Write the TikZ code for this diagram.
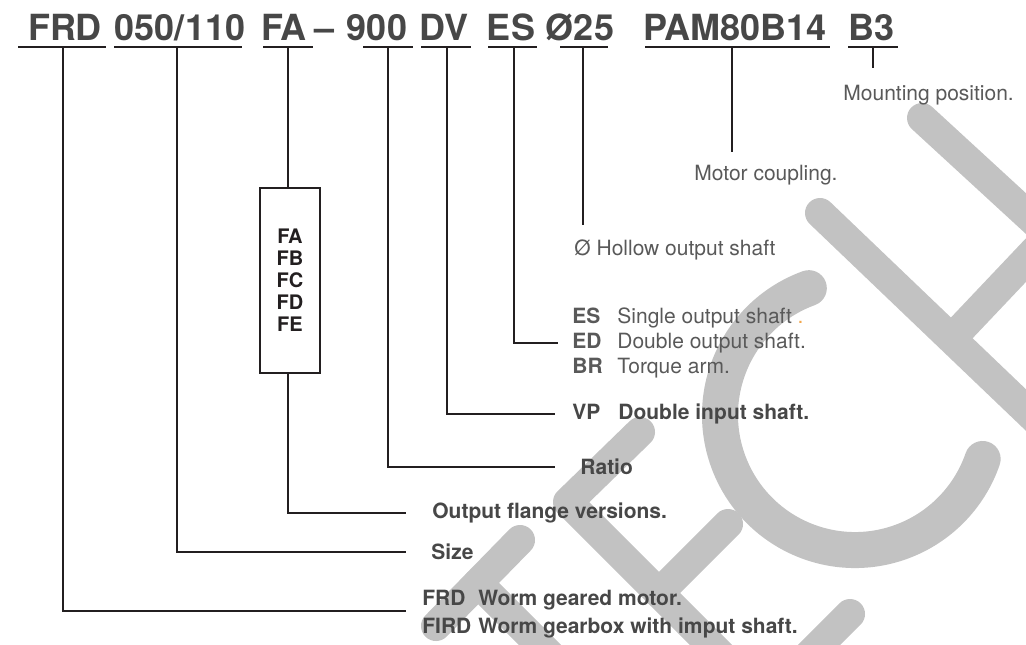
\documentclass[tikz,border=0pt]{standalone}
\usepackage{fontspec}
\setmainfont{TeX Gyre Heros}
\usepackage{tikz}
\usetikzlibrary{positioning}
\definecolor{frdInk}{HTML}{474747}
\definecolor{frdRule}{HTML}{231F20}
\definecolor{frdText}{HTML}{595959}
\definecolor{frdWater}{HTML}{C2C2C2}
\definecolor{frdDot}{HTML}{F2A64B}
\tikzset{
  partcode/.style  = {font=\fontsize{18}{20}\selectfont\bfseries, text=frdInk,
                      inner sep=0pt, anchor=base},
  codeline/.style  = {line width=1pt, draw=frdRule},
  lead/.style      = {line width=1pt, draw=frdRule},
  lbl/.style       = {font=\fontsize{10.5}{12.5}\selectfont, text=frdText,
                      inner sep=0pt, align=left},
  lblbold/.style   = {lbl, font=\fontsize{10.5}{12.5}\selectfont\bfseries, text=frdInk},
  flangebox/.style = {draw=frdRule, line width=1pt, minimum width=30pt,
                      minimum height=92.5pt, inner sep=0pt, align=center,
                      font=\fontsize{10}{11}\selectfont\bfseries, text=frdRule},
  wmark/.style     = {draw=frdWater, line width=15pt, line cap=round, line join=round},
}
\newcommand{\abbr}[1]{\makebox[22.5pt][l]{\bfseries #1}}

\begin{document}
\begin{tikzpicture}[x=0.5pt, y=-0.5pt]
  \useasboundingbox (0,0) rectangle (1026,644);

  % watermark letters
  \begin{scope}
    \clip (0,0) rectangle (1026,644);
    \draw[wmark] (436,626) -- (520,540);
    \draw[wmark] (478,583) -- (570,675);
    \draw[wmark] (640,432) -- (568,502) -- (800,734);
    \draw[wmark] (659,593) -- (728,524);
    \draw[wmark] (765,699) -- (850,614);
    \draw[wmark, line width=18pt] ([shift={(250:135)}]855,415)
      arc[start angle=250, end angle=19, radius=135];
    \draw[wmark] (922,118) -- (1120,300);
    \draw[wmark] (820,213) -- (1120,500);
    \draw[wmark] (955,335) -- (1045,240);
  \end{scope}

  % type code
  \node[partcode] (frd)   at (65,40)  {FRD};
  \node[partcode] (size)  at (180,40) {050/110};
  \node[partcode] (fa)    at (284,40) {FA};
  \node[partcode] (dash)  at (325,40) {–};
  \node[partcode] (ratio) at (377,40) {900};
  \node[partcode] (dv)    at (444,40) {DV};
  \node[partcode] (es)    at (511,40) {ES};
  \node[partcode] (dia)   at (580,40) {Ø25};
  \node[partcode] (pam)   at (735,40) {PAM80B14};
  \node[partcode] (b3)    at (871,40) {B3};

  \foreach \a/\b/\t/\n in {18/106/63/frd, 114/242/177/size, 263/313/288/fa,
      363/413/388/ratio, 421/471/447/dv, 488/537/514/es, 560/608/583/dia,
      645/830/732/pam, 848/898/873/b3}{
    \draw[codeline] (\a,47) -- (\b,47);
    \coordinate (\n-tap) at (\t,47);
  }

  \coordinate (frd-end)   at (406,611);
  \coordinate (size-end)  at (406,552);
  \coordinate (fa-end)    at (406,513);
  \coordinate (ratio-end) at (555,467);
  \coordinate (dv-end)    at (555,414);
  \coordinate (es-end)    at (558,343);
  \coordinate (dia-end)   at (583,225);
  \coordinate (pam-end)   at (732,152);
  \coordinate (b3-end)    at (873,68);

  \node[flangebox] (fbox) at (290,280) {FA\\FB\\FC\\FD\\FE};

  % leaders
  \draw[lead] (frd-tap) |- (frd-end);
  \draw[lead] (size-tap) |- (size-end);
  \draw[lead] (fa-tap) -- (fa-tap |- fbox.north);
  \draw[lead] (fa-tap |- fbox.south) |- (fa-end);
  \draw[lead] (ratio-tap) |- (ratio-end);
  \draw[lead] (dv-tap) |- (dv-end);
  \draw[lead] (es-tap) |- (es-end);
  \draw[lead] (dia-tap) -- (dia-end);
  \draw[lead] (pam-tap) -- (pam-end);
  \draw[lead] (b3-tap) -- (b3-end);

  % meanings
  \node[lblbold, right=8pt of frd-end, yshift=-1.5pt] (frd-lbl)
    {\begin{tabular}{@{}l@{\hspace{3.5pt}}l@{}}
      FRD & Worm geared motor.\\[1.5pt]
      FIRD & Worm gearbox with imput shaft.
     \end{tabular}};
  \node[lblbold, right=12.5pt of size-end] (size-lbl) {Size};
  \node[lblbold, right=13pt of fa-end] (fa-lbl) {Output flange versions.};
  \node[lblbold, right=12.5pt of ratio-end] (ratio-lbl) {Ratio};
  \node[lblbold, right=8.5pt of dv-end] (dv-lbl)
    {\makebox[23pt][l]{VP}Double input shaft.};
  \node[lbl, right=7pt of es-end] (es-lbl)
    {\abbr{ES}Single output shaft {\color{frdDot}.}\\
     \abbr{ED}Double output shaft.\\
     \abbr{BR}Torque arm.};
  \node[lbl, anchor=west] (dia-lbl) at (574,250) {Ø Hollow output shaft};
  \node[lbl] (pam-lbl) at (766,175) {Motor coupling.};
  \node[lbl, anchor=west] (b3-lbl) at (843,95) {Mounting position.};
\end{tikzpicture}
\end{document}
